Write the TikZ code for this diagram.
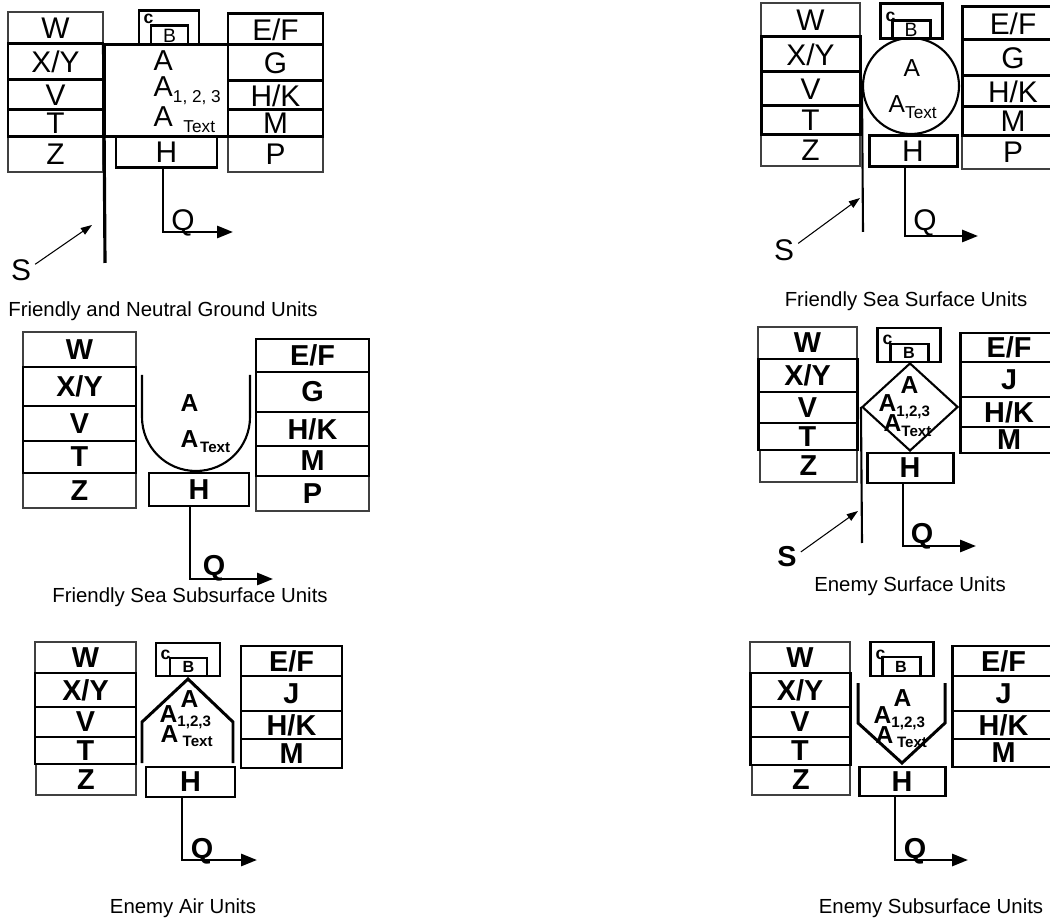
\documentclass[tikz,border=0pt]{standalone}
\usepackage{fontspec}
\setmainfont{Liberation Sans}
\usepackage{tikz}
\usetikzlibrary{arrows.meta, shapes.geometric}

\newcommand{\subtxt}[1]{\raisebox{-1.6pt}{\fontsize{4.9}{6}\selectfont #1}}
\newcommand{\subbf}[1]{\raisebox{-1.2pt}{\fontsize{4.3}{5}\selectfont\bfseries #1}}

\begin{document}
\begin{tikzpicture}[x=0.1mm, y=-0.1mm,
    cellpos/.style args={#1/#2/#3/#4}{
        at={({(#1+#3)/2},{(#2+#4)/2})},
        minimum width={(#3-#1)*0.1mm}, minimum height={(#4-#2)*0.1mm}},
    cell/.style={draw, line width=0.85pt, inner sep=0pt},
    thincell/.style={draw=black!75, line width=0.35pt, inner sep=0pt},
    lt/.style={font=\fontsize{8.5}{10}\selectfont},
    bf/.style={font=\fontsize{8.2}{10}\selectfont\bfseries},
    alt/.style={inner sep=0pt, anchor=base west, font=\fontsize{8.2}{10}\selectfont},
    altsm/.style={inner sep=0pt, anchor=base west, font=\fontsize{7}{8}\selectfont},
    abf/.style={inner sep=0pt, anchor=base west, font=\fontsize{7}{8}\selectfont\bfseries},
    letter/.style={inner sep=1pt},
    qtag/.style={inner sep=0pt, anchor=base},
    ctag/.style={inner sep=0pt, anchor=north west, font=\fontsize{5}{6}\selectfont\bfseries},
    btag/.style={font=\fontsize{5.5}{6}\selectfont},
    btagbf/.style={font=\fontsize{4.6}{5}\selectfont\bfseries},
    outline/.style={draw, line width=0.6pt},
    staff/.style={line width=0.6pt},
    qarrow/.style={line width=0.75pt, -{Triangle[length=4.5pt, width=3.4pt]}},
    sarrow/.style={line width=0.3pt, -{Triangle[length=3.2pt, width=2.2pt]}},
    unitcap/.style={inner sep=0pt, anchor=base, font=\fontsize{5.8}{7}\selectfont},
]

\path[use as bounding box, fill=white] (0,0) rectangle (1050,918);

% ── Panel: Friendly and Neutral Ground ────────────────────────────────
\node[thincell, lt, cellpos=8/12/103/44]     (w1)  {W};
\node[thincell, lt, cellpos=8/137/103/172]   (z1)  {Z};
\node[thincell, lt, cellpos=228/137/323/172] (p1)  {P};
\node[cell, lt, cellpos=8/44/103/80]         (xy1) {X/Y};
\node[cell, lt, cellpos=8/80/103/110]        (v1)  {V};
\node[cell, lt, cellpos=8/110/103/137]       (t1)  {T};
\node[cell, lt, cellpos=228/14/323/45]       (ef1) {E/F};
\node[cell, lt, cellpos=228/45/323/81]       (g1)  {G};
\node[cell, lt, cellpos=228/81/323/110]      (hk1) {H/K};
\node[cell, lt, cellpos=228/110/323/137]     (m1)  {M};
\node[cell, cellpos=139/11/199/45]           (c1)  {};
\node[cell, btag, cellpos=151/26/188/45]     (b1)  {B};
\node[ctag] (ct1) at (143,13) {c};
\node[cell, cellpos=105/45/228/137]          (fr1) {};
\node[cell, lt, cellpos=116/137/217/168]     (h1)  {H};

\node[alt] (a1)  at (153,71)  {A};
\node[alt] (an1) at (153,97)  {A\subtxt{1, 2, 3}};
\node[alt] (at1) at (153,127) {A\hspace{3pt}\subtxt{Text}};

\coordinate (sb1) at (105,263);
\draw[staff, line width=0.9pt] (fr1.north west) -- (sb1);

\coordinate (qc1) at (163,232);
\coordinate (qe1) at (233,232);
\draw[qarrow] (h1.south -| qc1) -- (qc1) -- (qe1);
\node[qtag, lt] (q1) at (183,231) {Q};

\node[letter, lt] (s1) at (21,270) {S};
\coordinate (sa1) at (92,225);
\draw[sarrow] (s1.22) -- (sa1);

\node[unitcap] (cap1) at (163,317) {Friendly and Neutral Ground Units};

% ── Panel: Friendly Sea Surface ───────────────────────────────────────
\node[thincell, lt, cellpos=761/3/860/37]     (w2)  {W};
\node[thincell, lt, cellpos=761/135/860/166]  (z2)  {Z};
\node[thincell, lt, cellpos=962/136/1064/169] (p2)  {P};
\node[cell, lt, cellpos=761/37/860/72]        (xy2) {X/Y};
\node[cell, lt, cellpos=761/72/860/106]       (v2)  {V};
\node[cell, lt, cellpos=761/106/860/135]      (t2)  {T};
\node[cell, lt, cellpos=962/7/1064/40]        (ef2) {E/F};
\node[cell, lt, cellpos=962/40/1064/76]       (g2)  {G};
\node[cell, lt, cellpos=962/76/1064/107]      (hk2) {H/K};
\node[cell, lt, cellpos=962/107/1064/136]     (m2)  {M};
\node[cell, cellpos=880/4/942/39]             (c2)  {};
\node[cell, btag, cellpos=892/21/930/39]      (b2)  {B};
\node[ctag] (ct2) at (885,11) {c};
\node[outline, circle, minimum size=9.6mm, inner sep=0pt] (ring2) at (911,86) {};
\node[cell, lt, cellpos=869/136/957/167]      (h2)  {H};

\node[altsm] (a2)  at (903,77)  {A};
\node[altsm] (at2) at (888,113) {A\subtxt{Text}};

\coordinate (sb2) at (863,232);
\draw[staff] (ring2.west) -- (sb2);

\coordinate (qc2) at (905,236);
\coordinate (qe2) at (978,236);
\draw[qarrow] (h2.south -| qc2) -- (qc2) -- (qe2);
\node[qtag, lt] (q2) at (925,231) {Q};

\node[letter, lt] (s2) at (784,250) {S};
\coordinate (sa2) at (860,198);
\draw[sarrow] (s2.25) -- (sa2);

\node[unitcap] (cap2) at (906,307) {Friendly Sea Surface Units};

% ── Panel: Friendly Sea Subsurface ────────────────────────────────────
\node[thincell, bf, cellpos=23/332/136/367]   (w3)  {W};
\node[thincell, bf, cellpos=23/473/136/508]   (z3)  {Z};
\node[thincell, bf, cellpos=256/476/369/511]  (p3)  {P};
\node[cell, bf, cellpos=23/367/136/406]       (xy3) {X/Y};
\node[cell, bf, cellpos=23/406/136/441]       (v3)  {V};
\node[cell, bf, cellpos=23/441/136/473]       (t3)  {T};
\node[cell, bf, cellpos=256/339/369/372]      (ef3) {E/F};
\node[cell, bf, cellpos=256/372/369/412]      (g3)  {G};
\node[cell, bf, cellpos=256/412/369/446]      (hk3) {H/K};
\node[cell, bf, cellpos=256/446/369/476]      (m3)  {M};
\draw[outline] (142,375) -- (142,417)
    .. controls (142,447) and (166,471) .. (196,471)
    .. controls (226,471) and (250,447) .. (250,417) -- (250,375);
\node[cell, bf, cellpos=149/473/249/506]      (h3)  {H};

\node[abf] (a3)  at (180,412) {A};
\node[abf] (at3) at (180,448) {A\hspace{0.5pt}\subbf{Text}};

\coordinate (qc3) at (190,579);
\coordinate (qe3) at (273,579);
\draw[qarrow] (h3.south -| qc3) -- (qc3) -- (qe3);
\node[qtag, bf] (q3) at (214,576) {Q};

\node[unitcap] (cap3) at (190,603) {Friendly Sea Subsurface Units};

% ── Panel: Enemy Surface ──────────────────────────────────────────────
\node[thincell, bf, cellpos=758/327/857/359]  (w4)  {W};
\node[thincell, bf, cellpos=760/450/857/482]  (z4)  {Z};
\node[cell, bf, cellpos=758/359/857/392]      (xy4) {X/Y};
\node[cell, bf, cellpos=758/392/857/423]      (v4)  {V};
\node[cell, bf, cellpos=758/423/857/450]      (t4)  {T};
\node[cell, bf, cellpos=960/333/1058/362]     (ef4) {E/F};
\node[cell, bf, cellpos=960/362/1058/397]     (j4)  {J};
\node[cell, bf, cellpos=960/397/1058/427]     (hk4) {H/K};
\node[cell, bf, cellpos=960/427/1058/453]     (m4)  {M};
\node[cell, cellpos=877/328/940/362]          (c4)  {};
\node[cell, btagbf, cellpos=890/344/928/362]  (b4)  {B};
\node[ctag] (ct4) at (882,334) {c};
\node[outline, diamond, minimum width=9.6mm, minimum height=8.8mm, inner sep=0pt] (dia4) at (910,407) {};
\node[cell, bf, cellpos=867/453/953/483]      (h4)  {H};

\node[abf] (a4)  at (900,394) {A};
\node[abf] (an4) at (878,412) {A\subbf{1,2,3}};
\node[abf] (at4) at (883,432) {A\subbf{Text}};

\coordinate (sb4) at (862,543);
\draw[staff] (dia4.west) -- (sb4);

\coordinate (qc4) at (903,546);
\coordinate (qe4) at (976,546);
\draw[qarrow] (h4.south -| qc4) -- (qc4) -- (qe4);
\node[qtag, bf] (q4) at (922,544) {Q};

\node[letter, bf] (s4) at (787,557) {S};
\coordinate (sa4) at (858,511);
\draw[sarrow] (s4.20) -- (sa4);

\node[unitcap] (cap4) at (910,592) {Enemy Surface Units};

% ── Panel: Enemy Air ──────────────────────────────────────────────────
\node[thincell, bf, cellpos=35/642/136/673]   (w5)  {W};
\node[thincell, bf, cellpos=36/764/136/795]   (z5)  {Z};
\node[cell, bf, cellpos=35/673/136/707]       (xy5) {X/Y};
\node[cell, bf, cellpos=35/707/136/737]       (v5)  {V};
\node[cell, bf, cellpos=35/737/136/764]       (t5)  {T};
\node[cell, bf, cellpos=241/646/342/676]      (ef5) {E/F};
\node[cell, bf, cellpos=241/676/342/711]      (j5)  {J};
\node[cell, bf, cellpos=241/711/342/739]      (hk5) {H/K};
\node[cell, bf, cellpos=241/739/342/768]      (m5)  {M};
\node[cell, cellpos=156/643/220/676]          (c5)  {};
\node[cell, btagbf, cellpos=170/658/207/676]  (b5)  {B};
\node[ctag] (ct5) at (160,649) {c};
\draw[outline, line width=0.85pt] (142,763) -- (142,722) -- (188,679) -- (233,722) -- (233,763);
\node[cell, bf, cellpos=146/767/235/797]      (h5)  {H};

\node[abf] (a5)  at (180,707) {A};
\node[abf] (an5) at (159,722) {A\subbf{1,2,3}};
\node[abf] (at5) at (160,742) {A\hspace{1.2pt}\subbf{Text}};

\coordinate (qc5) at (182,860);
\coordinate (qe5) at (257,860);
\draw[qarrow] (h5.south -| qc5) -- (qc5) -- (qe5);
\node[qtag, bf] (q5) at (202,858) {Q};

\node[unitcap] (cap5) at (183,913) {Enemy Air Units};

% ── Panel: Enemy Subsurface ───────────────────────────────────────────
\node[thincell, bf, cellpos=750/642/850/673]  (w6)  {W};
\node[thincell, bf, cellpos=752/765/850/795]  (z6)  {Z};
\node[cell, bf, cellpos=750/673/850/707]      (xy6) {X/Y};
\node[cell, bf, cellpos=750/707/850/737]      (v6)  {V};
\node[cell, bf, cellpos=750/737/850/765]      (t6)  {T};
\node[cell, bf, cellpos=952/646/1055/676]     (ef6) {E/F};
\node[cell, bf, cellpos=952/676/1055/711]     (j6)  {J};
\node[cell, bf, cellpos=952/711/1055/739]     (hk6) {H/K};
\node[cell, bf, cellpos=952/739/1055/767]     (m6)  {M};
\node[cell, cellpos=870/642/933/676]          (c6)  {};
\node[cell, btagbf, cellpos=882/657/920/676]  (b6)  {B};
\node[ctag] (ct6) at (875,649) {c};
\draw[outline, line width=0.85pt] (858,683) -- (858,723) -- (902,763) -- (945,723) -- (945,683);
\node[cell, bf, cellpos=859/767/945/796]      (h6)  {H};

\node[abf] (a6)  at (893,706) {A};
\node[abf] (an6) at (873,723) {A\subbf{1,2,3}};
\node[abf] (at6) at (875,743) {A\hspace{1pt}\subbf{Text}};

\coordinate (qc6) at (895,860);
\coordinate (qe6) at (968,860);
\draw[qarrow] (h6.south -| qc6) -- (qc6) -- (qe6);
\node[qtag, bf] (q6) at (915,858) {Q};

\node[unitcap] (cap6) at (931,913) {Enemy Subsurface Units};

\end{tikzpicture}
\end{document}
